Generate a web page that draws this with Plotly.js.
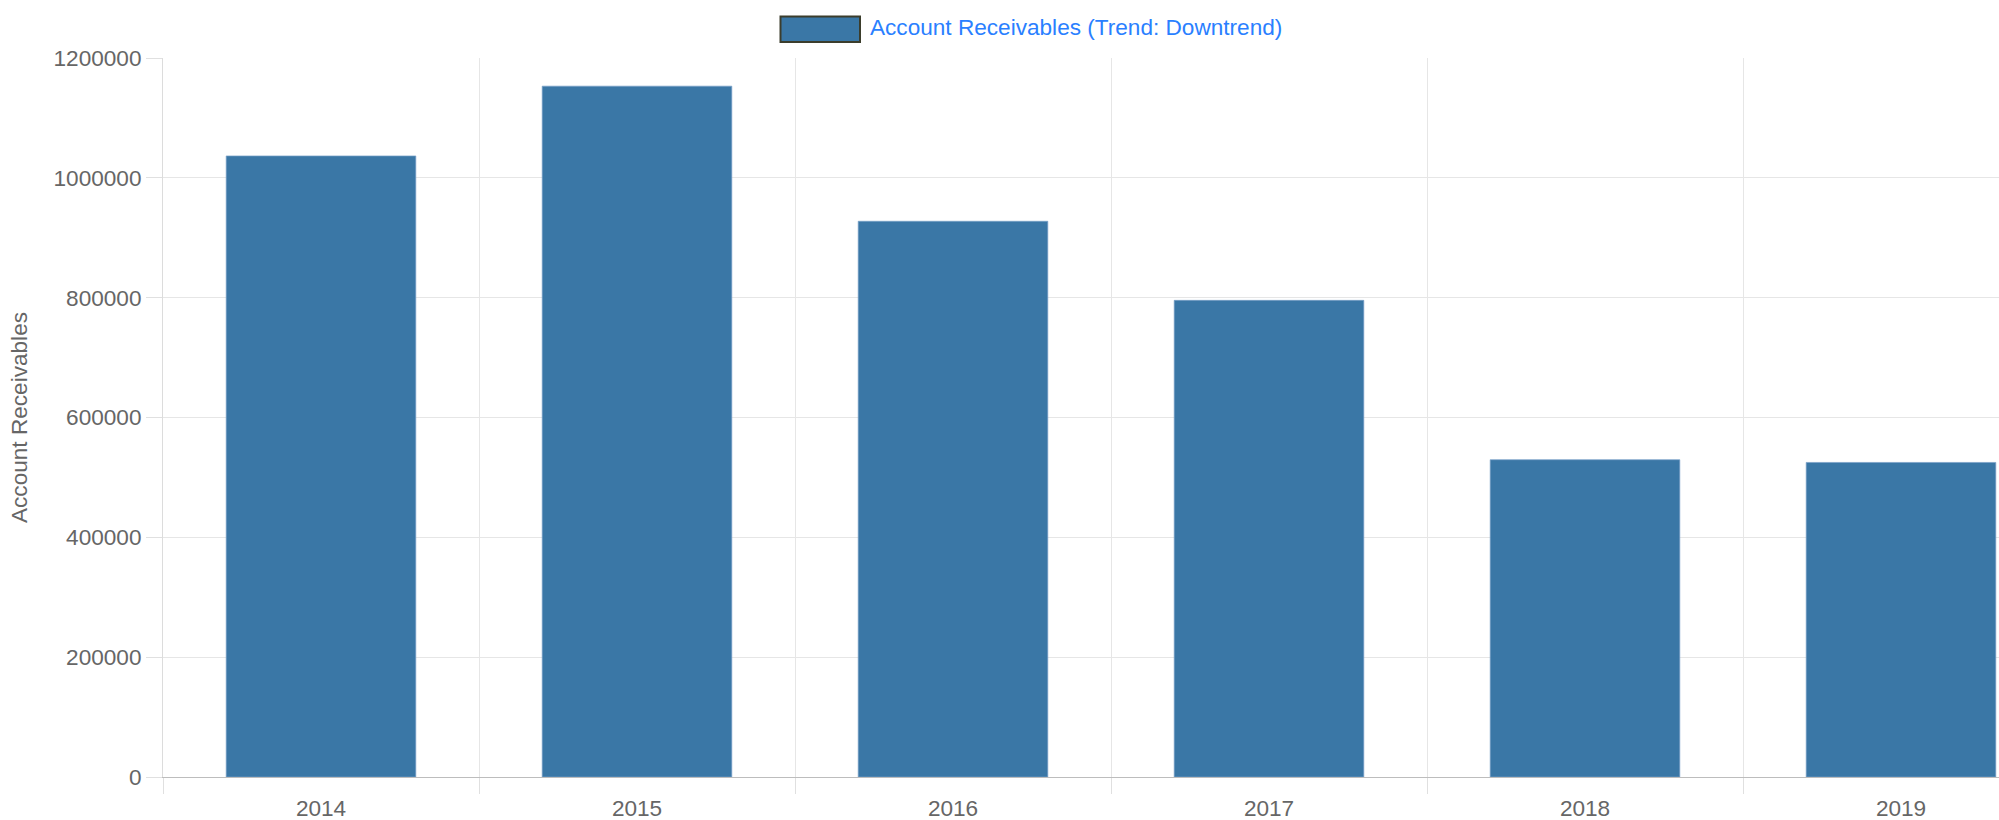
<!DOCTYPE html>
<html>
<head>
<meta charset="utf-8">
<script src="https://cdn.plot.ly/plotly-3.0.1.min.js"></script>
<style>
html, body { margin: 0; padding: 0; overflow: hidden; background: #fff; }
#chart { width: 1999px; height: 820px; }
</style>
</head>
<body>
<div id="chart"></div>
<script>
const years = ["2014", "2015", "2016", "2017", "2018", "2019"];
const receivables = [1036500, 1153000, 927500, 795500, 529500, 525000];
const seriesName = "Account Receivables (Trend: Downtrend)";
const yTitle = "Account Receivables";
const yTicks = [0, 200000, 400000, 600000, 800000, 1000000, 1200000];

const W = 1999, H = 820;
const mL = 163, mR = 0, mT = 58, mB = 43;
const plotW = W - mL - mR, plotH = H - mT - mB;
const px2x = p => (p - mL) / plotW;
const px2y = p => (H - mB - p) / plotH;
const FS = 22.6;

const trace = {
  type: "bar",
  x: years,
  y: receivables,
  name: seriesName,
  width: 0.6,
  marker: { color: "#3a77a6", line: { color: "rgba(120,160,200,0.7)", width: 1 } },
  hoverinfo: "x+y"
};

const layout = {
  width: W, height: H,
  margin: { l: mL, r: mR, t: mT, b: mB, pad: 0 },
  paper_bgcolor: "#ffffff",
  plot_bgcolor: "#ffffff",
  showlegend: false,
  font: { family: "Liberation Sans, Arial, sans-serif", size: FS, color: "#666666" },
  xaxis: {
    type: "category",
    range: [-0.5, -0.5 + plotW / 316],
    tickson: "boundaries",
    ticks: "outside",
    ticklen: 16,
    tickcolor: "#e0e0e0",
    ticklabelstandoff: 11,
    showgrid: true,
    gridcolor: "#e6e6e6",
    gridwidth: 1,
    showline: true,
    linecolor: "#bdbdbd",
    linewidth: 1,
    tickfont: { size: FS, color: "#666666" },
    fixedrange: true
  },
  yaxis: {
    range: [0, 1200000],
    tickvals: yTicks,
    ticktext: yTicks.map(v => String(v)),
    ticks: "outside",
    ticklen: 16,
    tickcolor: "#e0e0e0",
    showgrid: true,
    gridcolor: "#e6e6e6",
    zeroline: false,
    showline: true,
    linecolor: "#dcdcdc",
    linewidth: 1,
    tickfont: { size: FS, color: "#666666" },
    title: { text: yTitle, font: { size: FS, color: "#666666" }, standoff: 19 },
    automargin: false,
    fixedrange: true
  },
  shapes: [{
    type: "rect", xref: "paper", yref: "paper",
    x0: px2x(780.5), x1: px2x(860), y0: px2y(42), y1: px2y(16.5),
    fillcolor: "#3a77a6",
    line: { color: "#3b3d2c", width: 2 }
  }],
  annotations: [{
    xref: "paper", yref: "paper",
    x: px2x(868), y: px2y(27),
    xanchor: "left", yanchor: "middle",
    showarrow: false,
    text: seriesName,
    font: { size: FS, color: "#2a7fff" }
  }]
};

Plotly.newPlot("chart", [trace], layout, { displayModeBar: false });
</script>
</body>
</html>
